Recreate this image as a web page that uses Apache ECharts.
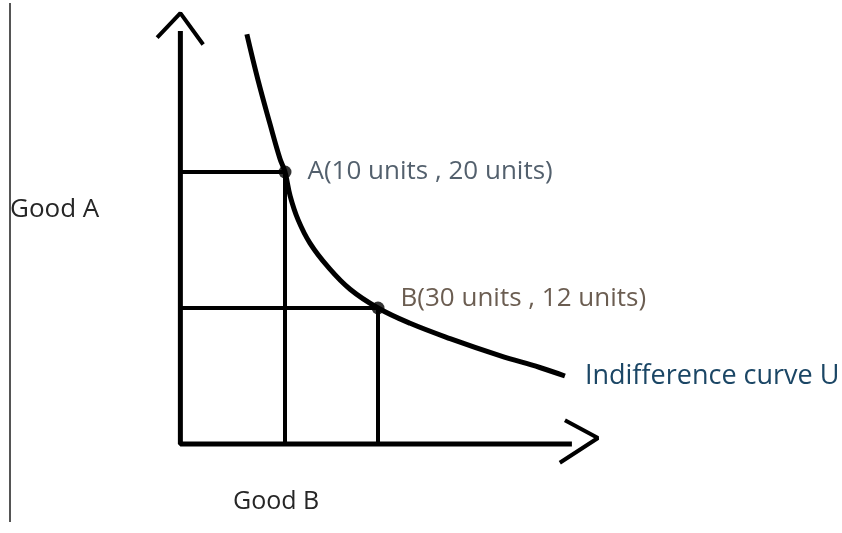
<!DOCTYPE html>
<html>
<head>
<meta charset="utf-8">
<title>Indifference curve</title>
<script src="https://cdn.jsdelivr.net/npm/echarts@6/dist/echarts.min.js"></script>
<style>
  html, body { margin: 0; padding: 0; background: #ffffff; }
  #chart { width: 842px; height: 533px; }
</style>
</head>
<body>
<div id="chart"></div>
<script>
// Quantity of Good B (x) and Good A (y) along indifference curve U
const curveGoodB = [1.8, 4.2, 6.8, 8.9, 10, 11.1, 12.8, 15.4, 19.3, 24.0, 30, 36.9, 45.5, 56.2, 64.8, 70.2];
const curveGoodA = [28.1, 25.4, 22.8, 20.8, 20, 18.6, 17.2, 15.8, 14.4, 13.1, 12, 11.1, 10.2, 9.2, 8.5, 8.0];

// Two bundles on the curve
const bundleNames = ['A', 'B'];
const bundleGoodB = [10, 30];
const bundleGoodA = [20, 12];

// Plot range
const xMin = -20, xMax = 80;
const yMin = 4, yMax = 30;

// Where the hand-drawn axes cross
const originX = -12.5, originY = 4;
const yAxisTop = 28.3;
const xAxisEnd = 71.7;

// Arrow heads, in data units
const yArrowX = [-17.5, -12.5, -7.6];
const yArrowY = [27.9, 29.35, 27.5];
const xArrowX = [70.2, 77.3, 69.1];
const xArrowY = [5.4, 4.35, 2.9];

const ink = '#000000';
const font = '"Open Sans", sans-serif';

const curveData = curveGoodB.map((x, i) => [x, curveGoodA[i]]);

const guideSeries = bundleNames.map((n, i) => ({
  type: 'line', clip: false, silent: true, symbol: 'none',
  lineStyle: { color: ink, width: 4 },
  data: [[originX, bundleGoodA[i]], [bundleGoodB[i], bundleGoodA[i]], [bundleGoodB[i], originY]]
}));

const labelColors = ['#283849', '#463526'];
const labelTexts = bundleNames.map((n, i) =>
  n + '(' + bundleGoodB[i] + ' units , ' + bundleGoodA[i] + ' units)');

const chart = echarts.init(document.getElementById('chart'), null, { renderer: 'canvas' });

chart.setOption({
  backgroundColor: '#ffffff',
  animation: false,
  grid: { left: 145.5, right: 231.5, top: 2, bottom: 89 },
  xAxis: { type: 'value', min: xMin, max: xMax, show: false },
  yAxis: { type: 'value', min: yMin, max: yMax, show: false },
  graphic: [
    { type: 'line', shape: { x1: 10, y1: 3, x2: 10, y2: 522 },
      style: { stroke: '#555555', lineWidth: 2 } },
    { type: 'text', left: 10, top: 197,
      style: { text: 'Good A', font: '26px ' + font, fill: '#262626' } },
    { type: 'text', left: 233, top: 489,
      style: { text: 'Good B', font: '25px ' + font, fill: '#262626' } }
  ],
  series: [
    // axes
    { type: 'line', clip: false, silent: true, symbol: 'none',
      lineStyle: { color: ink, width: 5 },
      data: [[originX, yAxisTop], [originX, originY], [xAxisEnd, originY]] },
    { type: 'line', clip: false, silent: true, symbol: 'none',
      lineStyle: { color: ink, width: 4 },
      data: yArrowX.map((x, i) => [x, yArrowY[i]]) },
    { type: 'line', clip: false, silent: true, symbol: 'none',
      lineStyle: { color: ink, width: 4 },
      data: xArrowX.map((x, i) => [x, xArrowY[i]]) },
    ...guideSeries,
    // indifference curve
    { type: 'line', clip: false, silent: true, symbol: 'none', smooth: 0.4,
      lineStyle: { color: ink, width: 5 },
      data: curveData,
      endLabel: {
        show: true, formatter: 'Indifference curve U', distance: 20,
        color: '#1b4665', fontSize: 27, fontFamily: font
      } },
    // bundles
    { type: 'scatter', clip: false, silent: true, symbolSize: 13,
      itemStyle: { color: ink },
      data: bundleNames.map((n, i) => ({
        name: n, value: [bundleGoodB[i], bundleGoodA[i]],
        label: {
          show: true, position: 'right', distance: 16,
          formatter: labelTexts[i], color: labelColors[i],
          fontSize: 26, fontFamily: font,
          offset: i === 1 ? [0, -9] : [0, 0]
        }
      })) }
  ]
});
</script>
</body>
</html>
